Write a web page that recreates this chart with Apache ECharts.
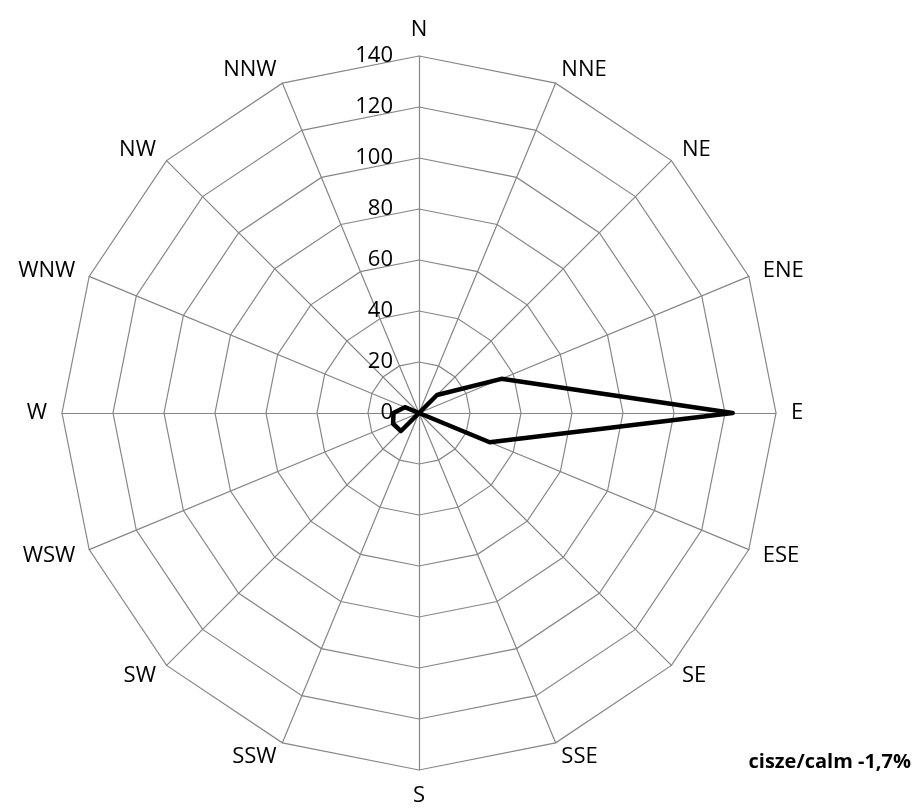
<!DOCTYPE html>
<html>
<head>
<meta charset="utf-8">
<script src="https://cdn.jsdelivr.net/npm/echarts@6/dist/echarts.min.js"></script>
<style>
  html, body { margin: 0; padding: 0; background: #fff; }
  #chart { width: 920px; height: 812px; }
</style>
</head>
<body>
<div id="chart"></div>
<script>
  // kierunki wiatru, zgodnie z ruchem wskazowek zegara od N
  const directions = ['N', 'NNE', 'NE', 'ENE', 'E', 'ESE', 'SE', 'SSE', 'S', 'SSW', 'SW', 'WSW', 'W', 'WNW', 'NW', 'NNW'];
  const frequency = [0, 0, 10, 35, 123, 30, 0, 0, 0, 0, 10, 11, 10, 6, 0, 0];
  const scaleMax = 140;
  const scaleStep = 20;
  const calmText = 'cisze/calm -1,7%';

  // radar w echarts idzie przeciwnie do wskazowek zegara - odwracamy kolejnosc (N zostaje na gorze)
  const order = [0].concat(directions.map((d, i) => i).slice(1).reverse());
  const indicators = order.map(i => ({ name: directions[i], max: scaleMax, min: 0 }));
  const values = order.map(i => frequency[i]);

  const font = 'Open Sans';
  const center = [419, 413];
  const radius = 357;

  let chart = echarts.init(document.getElementById('chart'));
  chart.setOption({
    backgroundColor: '#fff',
    animation: false,
    title: {
      text: calmText,
      right: 4,
      top: 747,
      textStyle: { fontFamily: font, fontSize: 20, fontWeight: 'bold', color: '#000' }
    },
    radar: {
      center: center,
      radius: radius,
      startAngle: 90,
      shape: 'polygon',
      splitNumber: scaleMax / scaleStep,
      indicator: indicators,
      nameGap: 15,
      axisName: { color: '#000', fontFamily: font, fontSize: 22 },
      axisLine: { lineStyle: { color: '#868686', width: 1.2 } },
      splitLine: { lineStyle: { color: '#868686', width: 1.2 } },
      splitArea: { show: false },
      axisTick: { show: false },
      axisLabel: { show: false }
    },
    // os wartosci tylko dla opisow 0..140 wzdluz N
    polar: { center: center, radius: radius },
    angleAxis: {
      type: 'value', startAngle: 90, min: 0, max: 360,
      axisLine: { show: false }, axisTick: { show: false },
      axisLabel: { show: false }, splitLine: { show: false }
    },
    radiusAxis: {
      type: 'value', min: 0, max: scaleMax, interval: scaleStep,
      axisLine: { show: false }, axisTick: { show: false }, splitLine: { show: false },
      axisLabel: { color: '#000', fontFamily: font, fontSize: 22, margin: 26 }
    },
    series: [{
      type: 'radar',
      symbol: 'none',
      lineStyle: { color: '#000', width: 4.5 },
      data: [{ value: values, name: 'freq' }]
    }]
  });
</script>
</body>
</html>
